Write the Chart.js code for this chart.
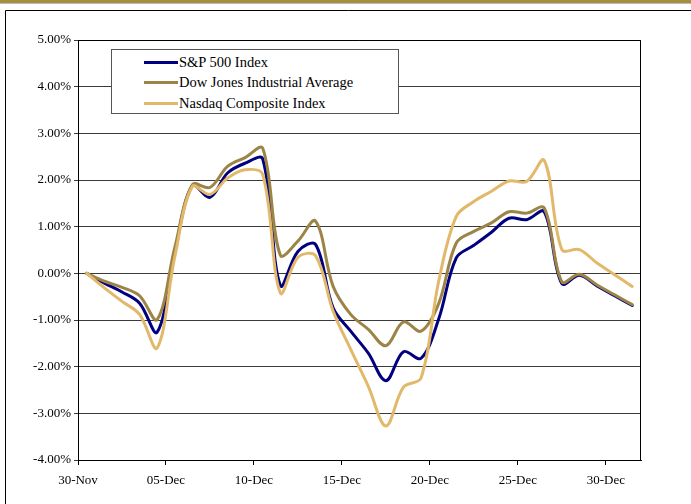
<!DOCTYPE html>
<html>
<head>
<meta charset="utf-8">
<script src="https://cdn.jsdelivr.net/npm/chart.js@4.4.0/dist/chart.umd.min.js"></script>
<style>
  html, body { margin: 0; padding: 0; background: #fff; }
  #wrap { position: relative; width: 691px; height: 504px; overflow: hidden; }
  #c { position: absolute; left: 0; top: 0; }
  #legend {
    position: absolute; left: 111px; top: 49px; width: 286px; height: 63px;
    background: #fff; border: 1px solid #555; box-sizing: content-box;
    font-family: "Liberation Serif", serif; font-size: 14.5px; color: #000;
  }
  .row { position: absolute; left: 0; height: 20px; line-height: 20px; white-space: nowrap; }
  .sw { position: absolute; left: 32px; top: 9px; width: 34px; height: 3px; }
  .lt { position: absolute; left: 67px; top: 0; }
</style>
</head>
<body>
<div id="wrap">
  <canvas id="c" width="691" height="504"></canvas>
  <div id="legend"></div>
</div>
<script>
// ---- data (percent change) ----
const dayLabels = ['30-Nov','01-Dec','02-Dec','03-Dec','04-Dec','05-Dec','06-Dec','07-Dec','08-Dec','09-Dec',
  '10-Dec','11-Dec','12-Dec','13-Dec','14-Dec','15-Dec','16-Dec','17-Dec','18-Dec','19-Dec','20-Dec',
  '21-Dec','22-Dec','23-Dec','24-Dec','25-Dec','26-Dec','27-Dec','28-Dec','29-Dec','30-Dec','31-Dec'];
const seriesNames = ['S&P 500 Index', 'Dow Jones Industrial Average', 'Nasdaq Composite Index'];
const sp500 = [0, -0.21, -0.40, -0.64, -1.26, 0.45, 1.88, 1.63, 2.15, 2.36, 2.45, -0.26, 0.47, 0.62, -0.74,
  -1.24, -1.71, -2.30, -1.68, -1.82, -0.98, 0.33, 0.60, 0.88, 1.18, 1.15, 1.32, -0.22, -0.04, -0.27, -0.48, -0.69];
const dow = [0, -0.17, -0.30, -0.48, -0.99, 0.55, 1.90, 1.84, 2.29, 2.48, 2.68, 0.39, 0.69, 1.12, -0.28,
  -0.88, -1.20, -1.55, -1.04, -1.24, -0.65, 0.65, 0.90, 1.08, 1.32, 1.29, 1.40, -0.18, -0.02, -0.25, -0.46, -0.67];
const nasdaq = [0, -0.31, -0.60, -0.88, -1.60, 0.35, 1.86, 1.69, 2.04, 2.22, 2.12, -0.42, 0.34, 0.38, -0.81,
  -1.63, -2.42, -3.27, -2.44, -2.24, -0.17, 1.22, 1.54, 1.76, 1.98, 1.97, 2.42, 0.51, 0.51, 0.22, -0.03, -0.28];
const xTickLabels = ['30-Nov','05-Dec','10-Dec','15-Dec','20-Dec','25-Dec','30-Dec'];
const yTicks = [-4, -3, -2, -1, 0, 1, 2, 3, 4, 5];
const colors = ['#000080', '#9C8446', '#E2B96B'];

// ---- build ----
function pts(arr) { return arr.map((v, i) => ({ x: i + 0.5, y: v })); }
const allSeries = [sp500, dow, nasdaq];

const legend = document.getElementById('legend');
seriesNames.forEach((n, i) => {
  const r = document.createElement('div');
  r.className = 'row';
  r.style.top = (1.5 + i * 20.5) + 'px';
  const sw = document.createElement('div'); sw.className = 'sw'; sw.style.background = colors[i];
  const t = document.createElement('div'); t.className = 'lt'; t.textContent = n;
  r.appendChild(sw); r.appendChild(t); legend.appendChild(r);
});

const framePlugin = {
  id: 'frame',
  beforeDraw(chart) {
    const ctx = chart.ctx;
    ctx.save();
    ctx.fillStyle = '#fff';
    ctx.fillRect(0, 0, chart.width, chart.height);
    ctx.fillStyle = '#A58F3A';
    ctx.fillRect(0, 0, chart.width, 3);
    ctx.fillStyle = '#bbb';
    ctx.fillRect(0, 3, chart.width, 1);
    ctx.strokeStyle = '#000';
    ctx.lineWidth = 1;
    ctx.beginPath();
    ctx.moveTo(5.5, chart.height);
    ctx.lineTo(5.5, 10.5);
    ctx.lineTo(chart.width, 10.5);
    ctx.stroke();
    ctx.restore();
  },
  afterDatasetsDraw(chart) {
    const a = chart.chartArea, ctx = chart.ctx;
    ctx.save();
    ctx.strokeStyle = '#000';
    ctx.lineWidth = 1;
    ctx.beginPath();
    ctx.moveTo(Math.round(a.left) + 0.5, Math.round(a.top) + 0.5);
    ctx.lineTo(Math.round(a.right) - 0.5, Math.round(a.top) + 0.5);
    ctx.lineTo(Math.round(a.right) - 0.5, Math.round(a.bottom) + 0.5);
    ctx.stroke();
    ctx.restore();
  }
};

const tickFont = { family: 'Liberation Serif', size: 13 };

new Chart(document.getElementById('c'), {
  type: 'line',
  data: {
    datasets: allSeries.map((s, i) => ({
      label: seriesNames[i],
      data: pts(s),
      borderColor: colors[i],
      backgroundColor: colors[i],
      borderWidth: 3,
      pointRadius: 0,
      tension: 0.35,
      fill: false,
      order: 3 - i,
      borderCapStyle: 'round',
      borderJoinStyle: 'round'
    }))
  },
  options: {
    responsive: false,
    animation: false,
    events: [],
    layout: { padding: { left: 0, top: 40, right: 50, bottom: 0 } },
    plugins: { legend: { display: false }, tooltip: { enabled: false } },
    scales: {
      x: {
        type: 'linear', min: 0, max: 32,
        afterBuildTicks(scale) { scale.ticks = xTickLabels.map((_, i) => ({ value: i * 5 })); },
        afterFit(scale) { scale.height = 44; },
        ticks: {
          autoSkip: false, maxRotation: 0, color: '#000', font: tickFont, padding: 8,
          callback(v) { return xTickLabels[Math.round(v / 5)]; }
        },
        grid: { display: true, drawOnChartArea: false, drawTicks: true, tickLength: 5, color: '#000' },
        border: { display: true, color: '#000', width: 1 }
      },
      y: {
        min: -4, max: 5,
        afterBuildTicks(scale) { scale.ticks = yTicks.map(v => ({ value: v })); },
        afterFit(scale) { scale.width = 78; },
        ticks: {
          color: '#000', font: tickFont, padding: 3,
          callback(v) { return v.toFixed(2) + '%'; }
        },
        grid: { color: '#3a3a3a', lineWidth: 1, drawTicks: true, tickLength: 4 },
        border: { display: true, color: '#000', width: 1 }
      }
    }
  },
  plugins: [framePlugin]
});
</script>
</body>
</html>
